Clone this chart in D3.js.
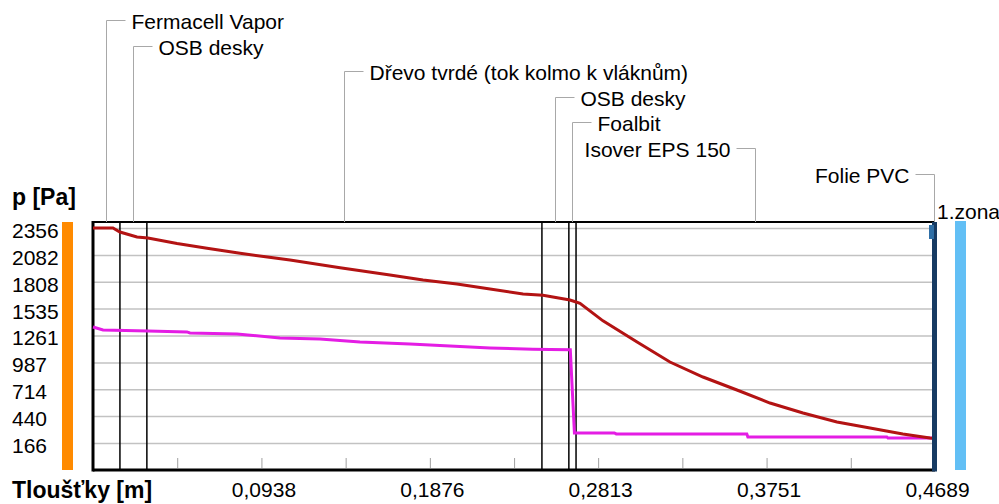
<!DOCTYPE html>
<html>
<head>
<meta charset="utf-8">
<script src="https://d3js.org/d3.v7.min.js"></script>
<style>
  body { margin: 0; background: #fff; }
  text { font-family: "Liberation Sans", Arial, sans-serif; fill: #000; }
</style>
</head>
<body>
<div id="chart"></div>
<script>
// layers of the wall (names + boundaries in metres)
const layerNames = ["Fermacell Vapor", "OSB desky", "Dřevo tvrdé (tok kolmo k vláknům)",
                    "OSB desky", "Foalbit", "Isover EPS 150", "Folie PVC"];
const layerBounds = [0, 0.015, 0.030, 0.250, 0.265, 0.269, 0.4680, 0.4689];

// saturated vapour pressure (red)
const satX = [0, 0.0111, 0.015, 0.0245, 0.0306, 0.0468, 0.0635, 0.0819, 0.1097, 0.1376,
              0.1654, 0.1838, 0.2027, 0.2211, 0.2395, 0.2506, 0.2656, 0.269, 0.2712, 0.284,
              0.303, 0.3213, 0.3397, 0.3586, 0.377, 0.3954, 0.4143, 0.4327, 0.451, 0.4661, 0.4689];
const satP = [2356, 2356, 2315, 2264, 2254, 2198, 2150, 2098, 2030, 1952,
              1877, 1826, 1786, 1735, 1684, 1670, 1622, 1602, 1588, 1410,
              1195, 991, 838, 706, 573, 472, 380, 319, 258, 217, 212];

// partial vapour pressure (magenta)
const parX = [0, 0.0056, 0.0306, 0.0523, 0.054, 0.0802, 0.1041, 0.1264, 0.1487, 0.1765,
              0.1988, 0.2211, 0.245, 0.2545, 0.2658, 0.2681, 0.2903, 0.2914, 0.3641, 0.3647,
              0.4421, 0.4427, 0.4689];
const parP = [1348, 1317, 1307, 1297, 1286, 1276, 1236, 1225, 1195, 1174,
              1154, 1134, 1122, 1118, 1116, 268, 268, 258, 258, 227,
              227, 217, 217];

const yTicks = [2356, 2082, 1808, 1535, 1261, 987, 714, 440, 166];
const xTicks = [0.0938, 0.1876, 0.2813, 0.3751, 0.4689];
const xTickLabels = ["0,0938", "0,1876", "0,2813", "0,3751", "0,4689"];
const xMinorTicks = [0.0469, 0.0938, 0.1407, 0.1876, 0.2345, 0.2813, 0.3282, 0.3751, 0.4220];

const width = 999, height = 504;
const pLeft = 93, pRight = 935, pTop = 222, pBottom = 470;

const svg = d3.select("#chart").append("svg")
  .attr("width", width).attr("height", height);

const x = d3.scaleLinear().domain([0, 0.4689]).range([pLeft, pRight]);
const y = d3.scaleLinear().domain([-109, 2422]).range([pBottom, 221.5]);

// orange + blue side bars
svg.append("rect").attr("x", 62).attr("y", pTop).attr("width", 11).attr("height", pBottom - pTop)
  .attr("fill", "#ff8a00");
svg.append("rect").attr("x", 955).attr("y", 221).attr("width", 11).attr("height", pBottom - 221)
  .attr("fill", "#62bff5");

// grid
svg.append("g")
  .attr("transform", `translate(${pLeft},0)`)
  .call(d3.axisLeft(y).tickValues(yTicks).tickSize(-(pRight - pLeft)).tickFormat(""))
  .call(g => g.select(".domain").remove())
  .call(g => g.selectAll("line").attr("stroke", "#c2c2c2").attr("stroke-width", 1.5));

// minor ticks on the bottom
svg.append("g")
  .attr("transform", `translate(0,${pBottom - 2})`)
  .call(d3.axisBottom(x).tickValues(xMinorTicks).tickSize(-10).tickFormat(""))
  .call(g => g.select(".domain").remove())
  .call(g => g.selectAll("line").attr("stroke", "#a0a0a0"));

// x tick labels
svg.append("g")
  .attr("transform", `translate(0,${pBottom})`)
  .call(d3.axisBottom(x).tickValues(xTicks).tickSize(0).tickPadding(12)
        .tickFormat((d, i) => xTickLabels[i]))
  .call(g => g.select(".domain").remove())
  .call(g => g.selectAll("text").attr("font-size", 21).attr("dx", 2)
        .attr("font-family", '"Liberation Sans", Arial, sans-serif').attr("fill", "#000"));

// y labels (left aligned)
svg.append("g").selectAll("text").data(yTicks).join("text")
  .attr("x", 12).attr("y", d => y(d) + 2.5)
  .attr("dominant-baseline", "central")
  .attr("font-size", 21)
  .text(d => d);

// layer boundaries
svg.append("g").selectAll("line").data(layerBounds.slice(1, 6)).join("line")
  .attr("x1", d => x(d)).attr("x2", d => x(d))
  .attr("y1", pTop).attr("y2", pBottom)
  .attr("stroke", "#000").attr("stroke-width", 1.5);

// frame
svg.append("line").attr("x1", pLeft).attr("x2", pRight).attr("y1", pTop).attr("y2", pTop)
  .attr("stroke", "#000").attr("stroke-width", 2);
svg.append("line").attr("x1", pLeft).attr("x2", pLeft).attr("y1", pTop - 1).attr("y2", pBottom + 1.5)
  .attr("stroke", "#000").attr("stroke-width", 3);
svg.append("line").attr("x1", pLeft).attr("x2", pRight).attr("y1", pBottom).attr("y2", pBottom)
  .attr("stroke", "#000").attr("stroke-width", 3);

// leaders + layer names
const leaders = svg.append("g");
layerNames.forEach((name, i) => {
  const mx = Math.round(x((layerBounds[i] + layerBounds[i + 1]) / 2)) + 0.5;
  const ry = Math.round(20 + 25.6 * i) + 0.5;
  const onLeft = (mx - pLeft) / (pRight - pLeft) > 0.65;
  const dir = onLeft ? -1 : 1;
  leaders.append("path")
    .attr("d", `M${mx},${pTop}V${ry}H${mx + dir * 19}`)
    .attr("fill", "none").attr("stroke", "#a8a8a8").attr("stroke-width", 1);
  leaders.append("text")
    .attr("x", mx + dir * 25).attr("y", ry + 1)
    .attr("text-anchor", onLeft ? "end" : "start")
    .attr("dominant-baseline", "central")
    .attr("font-size", 21)
    .text(name);
});

// pressure curves
const line = d3.line().x(d => x(d[0])).y(d => y(d[1]));
svg.append("path")
  .datum(parX.map((v, i) => [v, parP[i]]))
  .attr("d", line).attr("fill", "none")
  .attr("stroke", "#e41de4").attr("stroke-width", 3);
svg.append("path")
  .datum(satX.map((v, i) => [v, satP[i]]))
  .attr("d", line).attr("fill", "none")
  .attr("stroke", "#b31313").attr("stroke-width", 3);

// right border (Folie PVC) and zone marker
svg.append("line").attr("x1", pRight - 0.5).attr("x2", pRight - 0.5).attr("y1", pTop).attr("y2", pBottom + 1.5)
  .attr("stroke", "#173b63").attr("stroke-width", 5);
svg.append("rect").attr("x", 929).attr("y", 225).attr("width", 5).attr("height", 14)
  .attr("fill", "#2f6fa6");

svg.append("text").attr("x", 937).attr("y", 211).attr("dominant-baseline", "central")
  .attr("font-size", 21).text("1.zona");

// axis titles
svg.append("text").attr("x", 12).attr("y", 197).attr("dominant-baseline", "central")
  .attr("font-size", 23).attr("font-weight", "bold").text("p [Pa]");
svg.append("text").attr("x", 12).attr("y", 490).attr("dominant-baseline", "central")
  .attr("font-size", 23).attr("font-weight", "bold").text("Tloušťky [m]");
</script>
</body>
</html>
